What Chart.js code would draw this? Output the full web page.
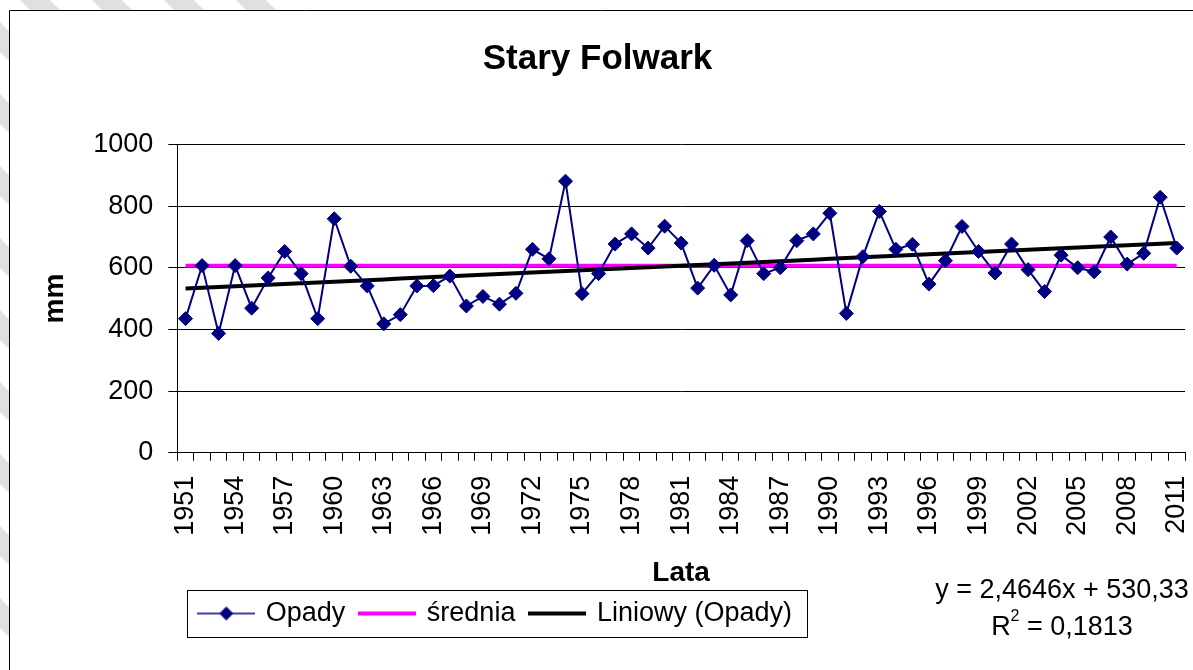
<!DOCTYPE html>
<html>
<head>
<meta charset="utf-8">
<script src="https://cdn.jsdelivr.net/npm/chart.js@4/dist/chart.umd.min.js"></script>
<style>
  html, body { margin: 0; padding: 0; background: #fff; }
  canvas { display: block; }
</style>
</head>
<body>
<canvas id="chart" width="1193" height="670"></canvas>
<script>
const FONT = "'Liberation Sans', Arial, sans-serif";

// lata (kategorie)
const years = [
  '1951','1952','1953','1954','1955','1956','1957','1958','1959','1960',
  '1961','1962','1963','1964','1965','1966','1967','1968','1969','1970',
  '1971','1972','1973','1974','1975','1976','1977','1978','1979','1980',
  '1981','1982','1983','1984','1985','1986','1987','1988','1989','1990',
  '1991','1992','1993','1994','1995','1996','1997','1998','1999','2000',
  '2001','2002','2003','2004','2005','2006','2007','2008','2009','2010','2011'
];

// opady roczne [mm]
const opady = [
  435, 607, 387, 607, 469, 567, 653, 581, 435, 759,
  605, 541, 418, 448, 541, 542, 573, 476, 507, 482,
  517, 660, 629, 881, 516, 581, 677, 710, 664, 735,
  680, 534, 608, 512, 688, 581, 600, 688, 710, 777,
  452, 636, 783, 660, 676, 547, 623, 734, 653, 583,
  677, 594, 523, 641, 600, 587, 700, 612, 647, 829, 664
];

const sredniaValue = 606.6;
// linia trendu z wykresu: y = 2,4646x + 530,33
const trendSlope = 2.4646;
const trendIntercept = 530.33;

const shownYears = ['1951','1954','1957','1960','1963','1966','1969','1972','1975','1978',
  '1981','1984','1987','1990','1993','1996','1999','2002','2005','2008','2011'];
const yTicks = [0, 200, 400, 600, 800, 1000];

const srednia = years.map(() => sredniaValue);
const trend = years.map((y, i) => trendSlope * (i + 1) + trendIntercept);

// ikonki do legendy
function legendIcon(color, width, diamond) {
  const c = document.createElement('canvas');
  c.width = 58; c.height = 20;
  const g = c.getContext('2d');
  g.strokeStyle = color;
  g.lineWidth = width;
  g.beginPath(); g.moveTo(0, 10); g.lineTo(58, 10); g.stroke();
  if (diamond) {
    g.fillStyle = color;
    g.beginPath();
    g.moveTo(29, 3); g.lineTo(36, 10); g.lineTo(29, 17); g.lineTo(22, 10);
    g.closePath(); g.fill();
  }
  return c;
}
const icons = [legendIcon('#000080', 1.5, true), legendIcon('#ff00ff', 4, false), legendIcon('#000000', 4, false)];

const background = {
  id: 'background',
  beforeDraw(chart) {
    const ctx = chart.ctx;
    ctx.save();
    ctx.fillStyle = '#fff';
    ctx.fillRect(0, 0, chart.width, chart.height);
    // szare paski na marginesie
    ctx.beginPath();
    ctx.rect(0, 0, 280, 10);
    ctx.rect(0, 10, 9, chart.height);
    ctx.clip();
    ctx.fillStyle = '#e0e0e0';
    for (let k = -12; k < 6; k++) {
      const x = k * 72 + 20;
      ctx.beginPath();
      ctx.moveTo(x, 0); ctx.lineTo(x + 30, 0);
      ctx.lineTo(x + 30 + 700, 700); ctx.lineTo(x + 700, 700);
      ctx.closePath(); ctx.fill();
    }
    ctx.restore();
    ctx.save();
    ctx.strokeStyle = '#000';
    ctx.lineWidth = 1;
    ctx.beginPath();
    ctx.moveTo(9.5, chart.height); ctx.lineTo(9.5, 10.5); ctx.lineTo(chart.width, 10.5);
    ctx.stroke();
    ctx.restore();
  }
};

const legendFrame = {
  id: 'legendFrame',
  afterLayout(chart) {
    const lg = chart.legend;
    const w = lg.width, h = lg.height;
    lg.left = chart.chartArea.left + 7;
    lg.right = lg.left + w;
    lg.top = lg.top - 6;
    lg.bottom = lg.top + h;
  },
  afterDraw(chart) {
    const lg = chart.legend;
    const labels = lg.options.labels;
    const pad = labels.padding;
    const x0 = lg.left + pad;
    const rowW = lg.lineWidths[0] - pad;
    const rowTop = lg.top + pad;
    const itemH = labels.font.size;
    const ctx = chart.ctx;
    ctx.save();
    ctx.strokeStyle = '#000';
    ctx.lineWidth = 1;
    ctx.strokeRect(Math.round(x0 - 13) + 0.5, Math.round(rowTop - 10) + 0.5,
      Math.round(rowW + 28), Math.round(itemH + 20));
    ctx.restore();
  }
};

const equation = {
  id: 'equation',
  afterDraw(chart) {
    const ctx = chart.ctx;
    const cx = chart.chartArea.right - 123;
    const y1 = chart.scales.x.bottom + 1;
    const y2 = y1 + 37;
    ctx.save();
    ctx.fillStyle = '#000';
    ctx.textBaseline = 'middle';
    ctx.textAlign = 'center';
    ctx.font = '27px ' + FONT;
    ctx.fillText('y = 2,4646x + 530,33', cx, y1);
    ctx.textAlign = 'left';
    const wR = ctx.measureText('R').width;
    const rest = ' = 0,1813';
    const wRest = ctx.measureText(rest).width;
    ctx.font = '16px ' + FONT;
    const w2 = ctx.measureText('2').width;
    let x = cx - (wR + w2 + wRest) / 2;
    ctx.font = '27px ' + FONT;
    ctx.fillText('R', x, y2);
    ctx.font = '16px ' + FONT;
    ctx.fillText('2', x + wR, y2 - 11);
    ctx.font = '27px ' + FONT;
    ctx.fillText(rest, x + wR + w2, y2);
    ctx.restore();
  }
};

new Chart(document.getElementById('chart'), {
  type: 'line',
  data: {
    labels: years,
    datasets: [
      {
        label: 'Opady',
        data: opady,
        borderColor: '#000080',
        backgroundColor: '#000080',
        borderWidth: 2,
        pointStyle: 'rectRot',
        pointRadius: 7,
        pointBorderWidth: 1,
        tension: 0,
        order: 1
      },
      {
        label: 'średnia',
        data: srednia,
        borderColor: '#ff00ff',
        borderWidth: 4,
        pointRadius: 0,
        order: 3
      },
      {
        label: 'Liniowy (Opady)',
        data: trend,
        borderColor: '#000000',
        borderWidth: 4,
        pointRadius: 0,
        order: 2
      }
    ]
  },
  options: {
    responsive: false,
    animation: false,
    devicePixelRatio: 1,
    layout: { padding: { left: 10, top: 10, right: 8, bottom: 27 } },
    plugins: {
      title: {
        display: true,
        text: 'Stary Folwark',
        color: '#000',
        font: { family: FONT, size: 35, weight: 'bold' },
        padding: { top: 28, bottom: 64.5 }
      },
      legend: {
        position: 'bottom',
        align: 'start',
        labels: {
          usePointStyle: true,
          pointStyleWidth: 52,
          padding: 16,
          color: '#000',
          font: { family: FONT, size: 27 },
          generateLabels: chart => chart.data.datasets.map((ds, i) => ({
            text: ds.label,
            pointStyle: icons[i],
            fillStyle: ds.borderColor,
            strokeStyle: ds.borderColor,
            lineWidth: 0,
            hidden: false,
            datasetIndex: i,
            fontColor: '#000'
          }))
        }
      },
      tooltip: { enabled: false }
    },
    scales: {
      x: {
        offset: true,
        grid: { offset: true, drawOnChartArea: false, drawTicks: true, tickLength: 8, color: '#000' },
        border: { color: '#000', width: 1 },
        ticks: {
          autoSkip: false,
          maxRotation: 90,
          minRotation: 90,
          padding: 15,
          color: '#000',
          font: { family: FONT, size: 27 },
          callback: (v, i) => shownYears.includes(years[i]) ? years[i] : ''
        },
        title: {
          display: true,
          text: 'Lata',
          color: '#000',
          font: { family: FONT, size: 28, weight: 'bold' },
          padding: { top: 0, bottom: 0 }
        },
        afterFit: s => { s.height = 137.3; s.paddingLeft = 0; s.paddingRight = 0; }
      },
      y: {
        min: yTicks[0],
        max: yTicks[yTicks.length - 1],
        afterBuildTicks: s => { s.ticks = yTicks.map(v => ({ value: v })); },
        grid: { color: '#000', tickLength: 9 },
        border: { color: '#000', width: 1 },
        ticks: {
          padding: 15,
          color: '#000',
          font: { family: FONT, size: 27 },
          callback: v => String(v)
        },
        title: {
          display: true,
          text: 'mm',
          color: '#000',
          font: { family: FONT, size: 28, weight: 'bold' },
          padding: { top: 28, bottom: 0 }
        },
        afterFit: s => { s.width = 167.3; }
      }
    }
  },
  plugins: [background, legendFrame, equation]
});
</script>
</body>
</html>
